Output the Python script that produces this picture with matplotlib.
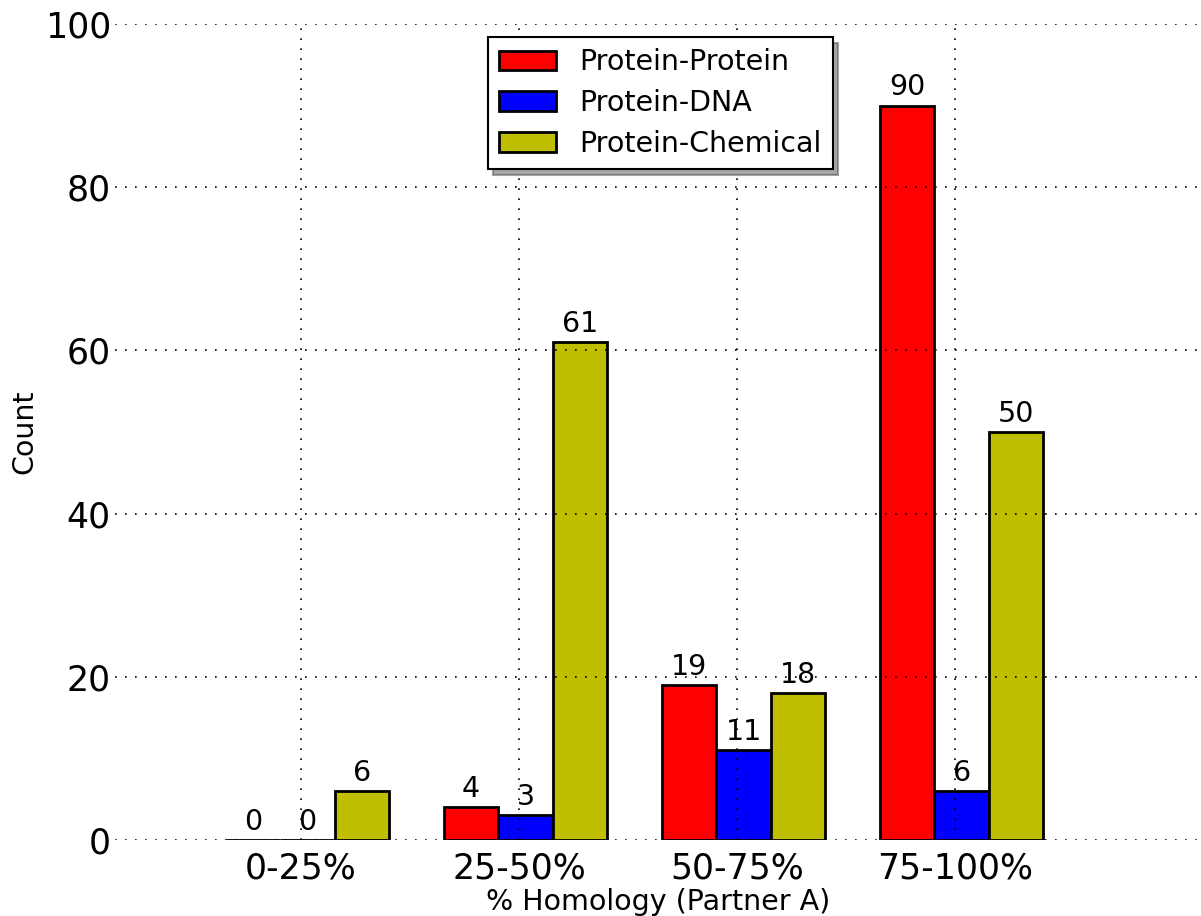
import numpy as np
import matplotlib
matplotlib.use("Agg")
import matplotlib.pyplot as plt

groups = ["0-25%", "25-50%", "50-75%", "75-100%"]
protein_protein = [0, 4, 19, 90]
protein_dna = [0, 3, 11, 6]
protein_chemical = [6, 61, 18, 50]

series = [
    ("Protein-Protein", protein_protein, "#ff0000"),
    ("Protein-DNA", protein_dna, "#0000ff"),
    ("Protein-Chemical", protein_chemical, "#bfbf00"),
]

fig = plt.figure(figsize=(12.01, 9.16), dpi=100)
ax = fig.add_axes([0.0958, 0.083, 0.9042, 0.8908])

ind = np.arange(len(groups))
width = 0.25

for i, (name, vals, col) in enumerate(series):
    bars = ax.bar(ind + i * width, vals, width, align="edge", color=col,
                  edgecolor="black", linewidth=2, label=name, zorder=1)
    for b in bars:
        h = b.get_height()
        ax.annotate(str(int(h)), (b.get_x() + b.get_width() / 2, h),
                    xytext=(0, 3), textcoords="offset points",
                    ha="center", va="bottom", fontsize=20.5)

ax.set_xticks(ind + 0.345)
ax.set_xticklabels(groups, fontsize=25)
ax.tick_params(length=0)
ax.tick_params(axis="x", pad=8)
ax.tick_params(axis="y", labelsize=25, pad=3)
ax.set_xlim(-0.508, 4.473)
ax.set_ylim(0, 100)
ax.set_yticks([0, 20, 40, 60, 80, 100])

ax.grid(True, linestyle=(0, (1, 5)), color="black", linewidth=1.2, zorder=3)
ax.set_axisbelow(False)
for s in ax.spines.values():
    s.set_visible(False)

ax.set_xlabel("% Homology (Partner A)", fontsize=20.5, labelpad=2)
ax.set_ylabel("Count", fontsize=20.5)
ax.yaxis.set_label_coords(-0.071, 0.5)

leg = ax.legend(loc="upper center", bbox_to_anchor=(0.502, 0.984), fontsize=20.5,
                shadow={"ox": 4, "oy": -4}, fancybox=False, framealpha=1,
                handlelength=2.0, handleheight=0.7, borderpad=0.4,
                labelspacing=0.45, borderaxespad=0)
leg.get_frame().set_edgecolor("black")
leg.get_frame().set_linewidth(1.5)

fig.savefig("out.png", dpi=100)
